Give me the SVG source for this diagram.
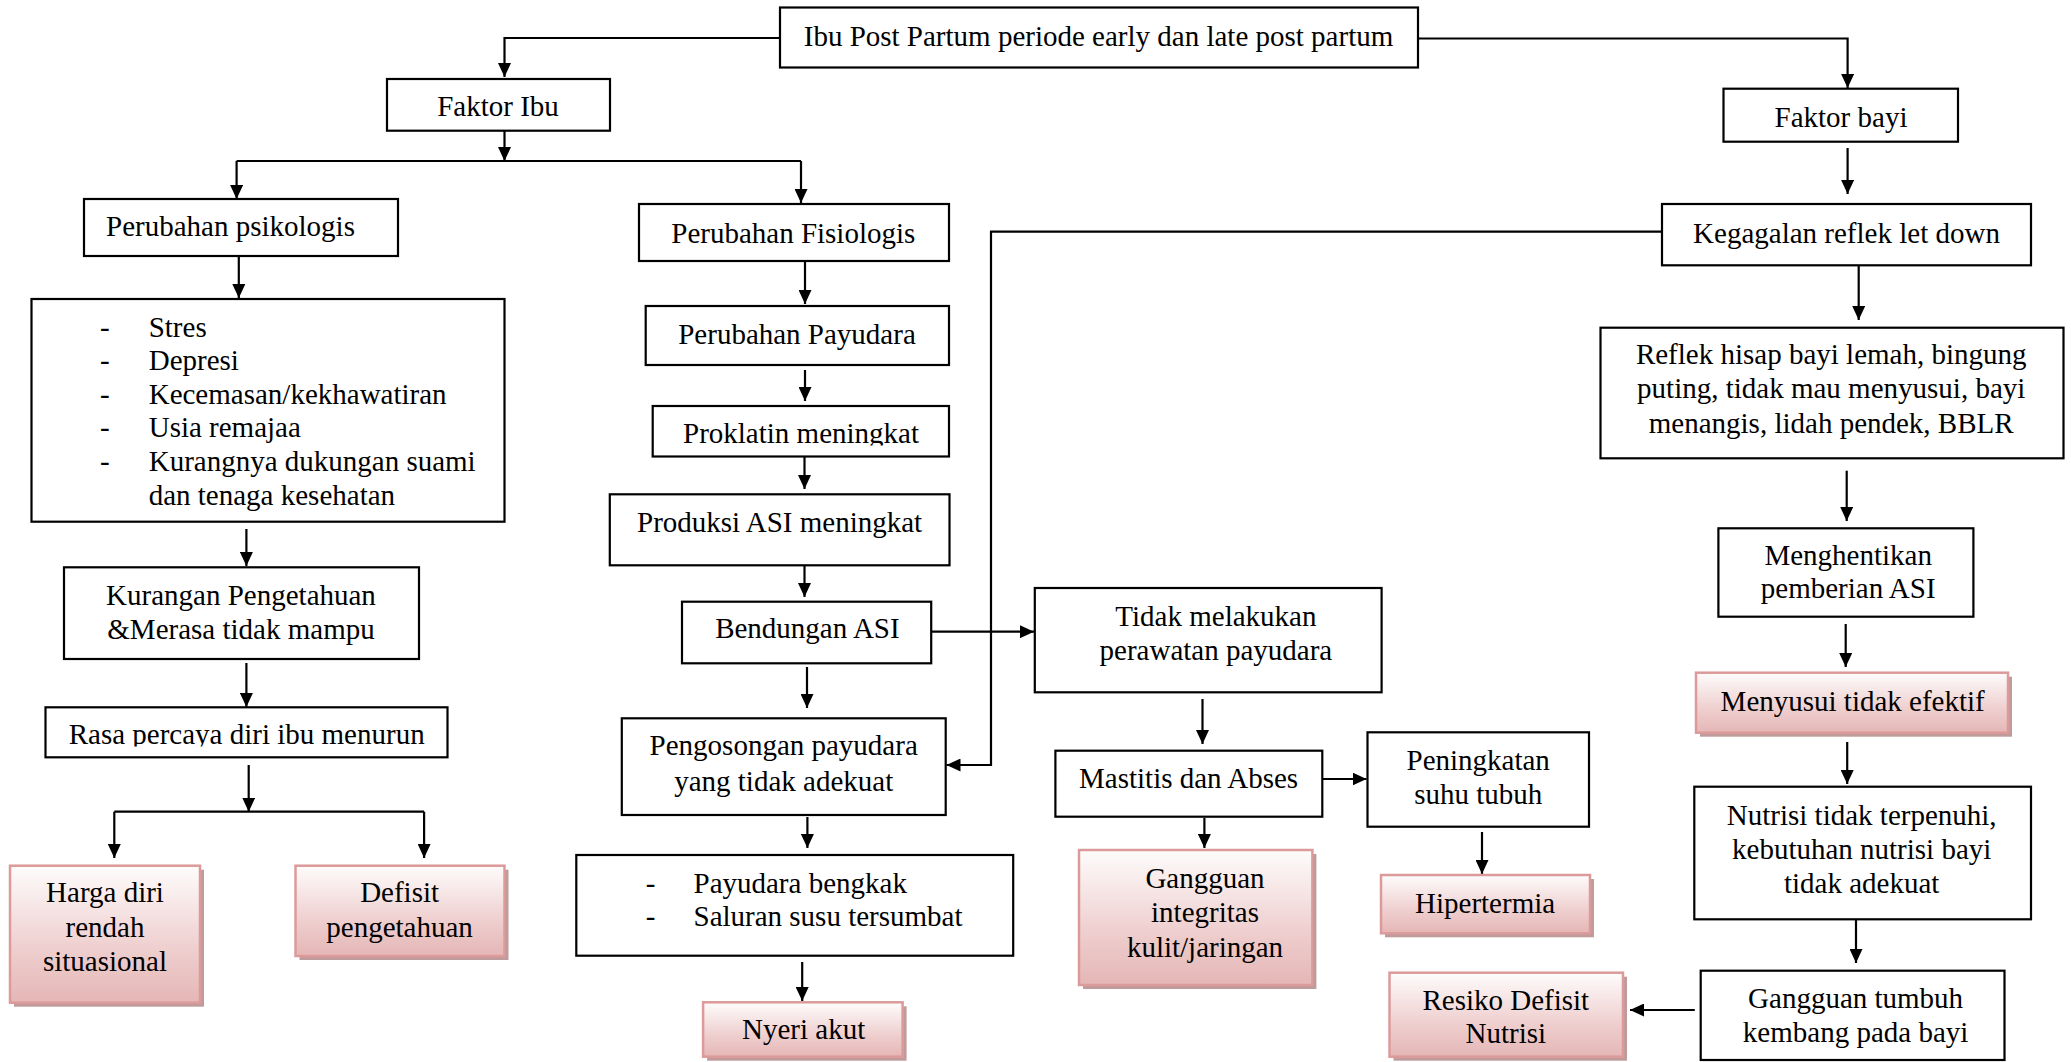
<svg xmlns="http://www.w3.org/2000/svg" width="2071" height="1062" viewBox="0 0 2071 1062">
<style>
.box{fill:#fff;stroke:#000;stroke-width:2.2}
.pink{fill:url(#pg);stroke:#dc9b9a;stroke-width:2.5}
.sh{fill:#bf9b9c}
.t{font-family:"Liberation Serif","Times New Roman",serif;font-size:29px;fill:#000;text-anchor:middle}
.l{font-family:"Liberation Serif","Times New Roman",serif;font-size:29px;fill:#000;text-anchor:start}
.c{fill:none;stroke:#000;stroke-width:2.2;marker-end:url(#ah)}
.cn{fill:none;stroke:#000;stroke-width:2.2}
</style>
<defs>
<linearGradient id="pg" x1="0" y1="0" x2="0" y2="1">
<stop offset="0" stop-color="#fefcfc"/>
<stop offset="0.6" stop-color="#efcfcf"/>
<stop offset="1" stop-color="#e5b6b6"/>
</linearGradient>
<marker id="ah" viewBox="0 0 14 13" refX="14" refY="6.5" markerWidth="14" markerHeight="13" markerUnits="userSpaceOnUse" orient="auto">
<path d="M0,0 L14,6.5 L0,13 z" fill="#000"/>
</marker>
<clipPath id="clipRasa"><rect x="45" y="707" width="403" height="39.5"/></clipPath>
<clipPath id="clipProk"><rect x="652" y="406" width="298" height="39.5"/></clipPath>
</defs>
<rect width="2071" height="1062" fill="#fff"/>

<g id="connectors">
<path class="c" d="M780,38 H504.5 V77"/>
<path class="c" d="M1418,38.5 H1847.6 V88"/>
<path class="c" d="M504.5,131 V161"/>
<path class="cn" d="M236.6,161 H801"/>
<path class="c" d="M236.6,161 V199"/>
<path class="c" d="M801,161 V203"/>
<path class="c" d="M238.8,256 V298"/>
<path class="c" d="M246.4,529 V566"/>
<path class="c" d="M246.4,663 V707"/>
<path class="c" d="M248.7,765 V811.7"/>
<path class="cn" d="M114.3,811.7 H424.1"/>
<path class="c" d="M114.3,811.7 V858"/>
<path class="c" d="M424.1,811.7 V858"/>
<path class="c" d="M805,261 V304"/>
<path class="c" d="M805,370 V401"/>
<path class="c" d="M804.5,457 V489"/>
<path class="c" d="M804.5,565.5 V597"/>
<path class="c" d="M931.5,631.7 H1034"/>
<path class="c" d="M807,667 V708"/>
<path class="c" d="M1662,231.7 H991 V765 H946.5"/>
<path class="c" d="M807.4,817 V848"/>
<path class="c" d="M802.2,962 V1001"/>
<path class="c" d="M1202.5,699 V744"/>
<path class="c" d="M1204.4,818 V848"/>
<path class="c" d="M1322.5,779 H1366.5"/>
<path class="c" d="M1482,832 V874"/>
<path class="c" d="M1847.6,148 V194"/>
<path class="c" d="M1858.7,266 V320"/>
<path class="c" d="M1846.7,470.7 V521"/>
<path class="c" d="M1845.7,624 V667"/>
<path class="c" d="M1847.2,742 V784"/>
<path class="c" d="M1856,919.5 V963"/>
<path class="c" d="M1694.8,1010 H1630"/>
</g>

<g id="n_ibu_postpartum">
<rect class="box" x="780" y="7.5" width="638" height="60"/>
<text class="t" x="1098.5" y="45.7">Ibu Post Partum periode early dan late post partum</text>
</g>
<g id="n_faktor_ibu">
<rect class="box" x="387" y="79" width="223" height="51.7"/>
<text class="t" x="498" y="115.7">Faktor Ibu</text>
</g>
<g id="n_faktor_bayi">
<rect class="box" x="1723.5" y="88.7" width="234.5" height="53"/>
<text class="t" x="1841" y="126.7">Faktor bayi</text>
</g>
<g id="n_psikologis">
<rect class="box" x="84" y="199" width="314" height="57"/>
<text class="t" x="230.5" y="235.7">Perubahan psikologis</text>
</g>
<g id="n_faktor_psikologis">
<rect class="box" x="31.5" y="299" width="473" height="222.7"/>
<text class="l" x="100" y="336.7">-</text><text class="l" x="148.7" y="336.7">Stres</text>
<text class="l" x="100" y="370">-</text><text class="l" x="148.7" y="370">Depresi</text>
<text class="l" x="100" y="403.5">-</text><text class="l" x="148.7" y="403.5">Kecemasan/kekhawatiran</text>
<text class="l" x="100" y="437.3">-</text><text class="l" x="148.7" y="437.3">Usia remajaa</text>
<text class="l" x="100" y="470.8">-</text><text class="l" x="148.7" y="470.8">Kurangnya dukungan suami</text>
<text class="l" x="148.7" y="505">dan tenaga kesehatan</text>
</g>
<g id="n_kurangan">
<rect class="box" x="64" y="567.3" width="355" height="91.7"/>
<text class="t" x="241" y="605">Kurangan Pengetahuan</text>
<text class="t" x="241" y="639.3">&amp;Merasa tidak mampu</text>
</g>
<g id="n_rasa_percaya">
<rect class="box" x="45.5" y="707.3" width="402" height="50"/>
<text class="t" x="246.7" y="744" clip-path="url(#clipRasa)">Rasa percaya diri ibu menurun</text>
</g>
<g id="n_harga_diri">
<rect class="sh" x="14" y="869.7" width="190" height="137"/>
<rect class="pink" x="10" y="865.7" width="190" height="137"/>
<text class="t" x="105" y="902.3">Harga diri</text>
<text class="t" x="105" y="936.7">rendah</text>
<text class="t" x="105" y="970.7">situasional</text>
</g>
<g id="n_defisit_pengetahuan">
<rect class="sh" x="299.5" y="869.7" width="209" height="90.3"/>
<rect class="pink" x="295.5" y="865.7" width="209" height="90.3"/>
<text class="t" x="399.6" y="902.3">Defisit</text>
<text class="t" x="399.6" y="936.7">pengetahuan</text>
</g>
<g id="n_fisiologis">
<rect class="box" x="639" y="204" width="310" height="57"/>
<text class="t" x="793.3" y="242.7">Perubahan Fisiologis</text>
</g>
<g id="n_payudara">
<rect class="box" x="645.7" y="306" width="303.3" height="59"/>
<text class="t" x="797" y="344.3">Perubahan Payudara</text>
</g>
<g id="n_proklatin">
<rect class="box" x="652.7" y="406" width="296.3" height="50.5"/>
<text class="t" x="801" y="443.3" clip-path="url(#clipProk)">Proklatin meningkat</text>
</g>
<g id="n_produksi">
<rect class="box" x="609.8" y="494.3" width="339.7" height="71"/>
<text class="t" x="779.6" y="531.7">Produksi ASI meningkat</text>
</g>
<g id="n_bendungan">
<rect class="box" x="682" y="601.7" width="249.2" height="61.6"/>
<text class="t" x="807.4" y="638.3">Bendungan ASI</text>
</g>
<g id="n_pengosongan">
<rect class="box" x="621.8" y="718.3" width="323.9" height="96.7"/>
<text class="t" x="783.7" y="755">Pengosongan payudara</text>
<text class="t" x="783.7" y="790.7">yang tidak adekuat</text>
</g>
<g id="n_payudara_bengkak">
<rect class="box" x="576.3" y="855" width="436.9" height="100.7"/>
<text class="l" x="645.7" y="892.7">-</text><text class="l" x="693.5" y="892.7">Payudara bengkak</text>
<text class="l" x="645.7" y="926">-</text><text class="l" x="693.5" y="926">Saluran susu tersumbat</text>
</g>
<g id="n_nyeri_akut">
<rect class="sh" x="707.1" y="1006.3" width="199.5" height="54.4"/>
<rect class="pink" x="703.1" y="1002.3" width="199.5" height="54.4"/>
<text class="t" x="803.6" y="1039.3">Nyeri akut</text>
</g>
<g id="n_tidak_perawatan">
<rect class="box" x="1034.8" y="588" width="346.8" height="104.3"/>
<text class="t" x="1215.9" y="625.7">Tidak melakukan</text>
<text class="t" x="1215.9" y="660">perawatan payudara</text>
</g>
<g id="n_mastitis">
<rect class="box" x="1055.4" y="750.7" width="266.9" height="66"/>
<text class="t" x="1188.6" y="788.3">Mastitis dan Abses</text>
</g>
<g id="n_gangguan_integritas">
<rect class="sh" x="1083" y="854" width="233.4" height="135"/>
<rect class="pink" x="1079" y="850" width="233.4" height="135"/>
<text class="t" x="1205" y="888.3">Gangguan</text>
<text class="t" x="1205" y="921.7">integritas</text>
<text class="t" x="1205" y="956.7">kulit/jaringan</text>
</g>
<g id="n_peningkatan_suhu">
<rect class="box" x="1367.5" y="732.3" width="221.5" height="94.4"/>
<text class="t" x="1478.2" y="770">Peningkatan</text>
<text class="t" x="1478.2" y="804">suhu tubuh</text>
</g>
<g id="n_hipertermia">
<rect class="sh" x="1385" y="879" width="209" height="58.3"/>
<rect class="pink" x="1381" y="875" width="209" height="58.3"/>
<text class="t" x="1485.1" y="913.3">Hipertermia</text>
</g>
<g id="n_resiko_defisit_nutrisi">
<rect class="sh" x="1393.5" y="976.7" width="233.5" height="84"/>
<rect class="pink" x="1389.5" y="972.7" width="233.5" height="84"/>
<text class="t" x="1505.8" y="1010">Resiko Defisit</text>
<text class="t" x="1505.8" y="1043.3">Nutrisi</text>
</g>
<g id="n_kegagalan">
<rect class="box" x="1662" y="204" width="369" height="61.3"/>
<text class="t" x="1846.5" y="242.7">Kegagalan reflek let down</text>
</g>
<g id="n_reflek_hisap">
<rect class="box" x="1600.5" y="327.7" width="463" height="130.6"/>
<text class="t" x="1831.2" y="363.5">Reflek hisap bayi lemah, bingung</text>
<text class="t" x="1831.2" y="398.3">puting, tidak mau menyusui, bayi</text>
<text class="t" x="1831.2" y="433.3">menangis, lidah pendek, BBLR</text>
</g>
<g id="n_menghentikan">
<rect class="box" x="1718.4" y="528.3" width="255" height="88.4"/>
<text class="t" x="1848.2" y="565">Menghentikan</text>
<text class="t" x="1848.2" y="598.3">pemberian ASI</text>
</g>
<g id="n_menyusui">
<rect class="sh" x="1700" y="676.7" width="312" height="60"/>
<rect class="pink" x="1696" y="672.7" width="312" height="60"/>
<text class="t" x="1852.7" y="710.5">Menyusui tidak efektif</text>
</g>
<g id="n_nutrisi">
<rect class="box" x="1694.3" y="786.7" width="336.7" height="132.6"/>
<text class="t" x="1861.7" y="824.5">Nutrisi tidak terpenuhi,</text>
<text class="t" x="1861.7" y="858.5">kebutuhan nutrisi bayi</text>
<text class="t" x="1861.7" y="893">tidak adekuat</text>
</g>
<g id="n_gangguan_tumbuh">
<rect class="box" x="1700.7" y="970.7" width="303.8" height="89.3"/>
<text class="t" x="1855.6" y="1008.3">Gangguan tumbuh</text>
<text class="t" x="1855.6" y="1041.7">kembang pada bayi</text>
</g>
</svg>
